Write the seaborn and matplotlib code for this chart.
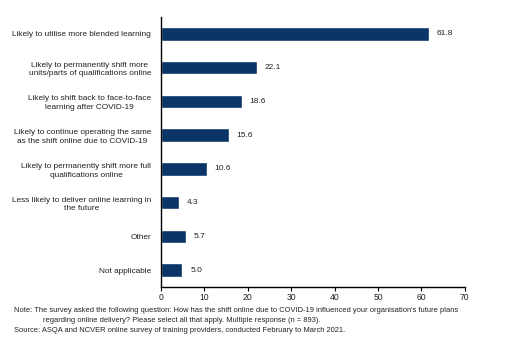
import matplotlib
matplotlib.use("Agg")
import matplotlib.pyplot as plt
import seaborn as sns
import pandas as pd

categories = [
    "Likely to utilise more blended learning",
    "Likely to permanently shift more\nunits/parts of qualifications online",
    "Likely to shift back to face-to-face\nlearning after COVID-19",
    "Likely to continue operating the same\nas the shift online due to COVID-19",
    "Likely to permanently shift more full\nqualifications online",
    "Less likely to deliver online learning in\nthe future",
    "Other",
    "Not applicable",
]
values = [61.8, 22.1, 18.6, 15.6, 10.6, 4.3, 5.7, 5.0]
xticks = [0, 10, 20, 30, 40, 50, 60, 70]

sns.set_theme(style="white")
plt.rcParams['font.family'] = ['Liberation Sans', 'DejaVu Sans']

df = pd.DataFrame({"cat": categories, "val": values})

fig = plt.figure(figsize=(5.12, 3.52), dpi=100)
ax = fig.add_axes([0.314, 0.185, 0.594, 0.767])
sns.barplot(data=df, x="val", y="cat", orient="h", color="#0b3567",
            saturation=1, width=0.4, ax=ax)
for p, v in zip(ax.patches, values):
    ax.text(p.get_width() + 1.8, p.get_y() + p.get_height() / 2, f"{v:.1f}",
            va="center", ha="left", fontsize=6, color="#222222")

ax.set_xlim(0, 70)
ax.set_ylim(7.5, -0.5)
ax.set_xticks(xticks)
ax.set_xticklabels([str(t) for t in xticks], fontsize=6.2, color="#222222")
ax.tick_params(axis="x", direction="out", length=3, width=0.8, color="black", pad=1.5, bottom=True)
ax.tick_params(axis="y", length=0, labelsize=5.95, labelcolor="#222222", pad=7)
for lbl in ax.get_yticklabels():
    lbl.set_horizontalalignment("right")
    lbl.set_multialignment("center")
    lbl.set_linespacing(1.35)
ax.set_xlabel("")
ax.set_ylabel("")
for s in ["top", "right"]:
    ax.spines[s].set_visible(False)
for s in ["left", "bottom"]:
    ax.spines[s].set_visible(True)
    ax.spines[s].set_color("black")
    ax.spines[s].set_linewidth(1.0)

fs = 5.45
fig.text(14/512, 1 - 311/352,
         "Note: The survey asked the following question: How has the shift online due to COVID-19 influenced your organisation's future plans",
         fontsize=fs, va="center", ha="left", color="#222222")
fig.text(43/512, 1 - 320/352,
         "regarding online delivery? Please select all that apply. Multiple response (n = 893).",
         fontsize=fs, va="center", ha="left", color="#222222")
fig.text(14/512, 1 - 331/352,
         "Source: ASQA and NCVER online survey of training providers, conducted February to March 2021.",
         fontsize=fs, va="center", ha="left", color="#222222")

fig.savefig("out.png", dpi=100, facecolor="white")
